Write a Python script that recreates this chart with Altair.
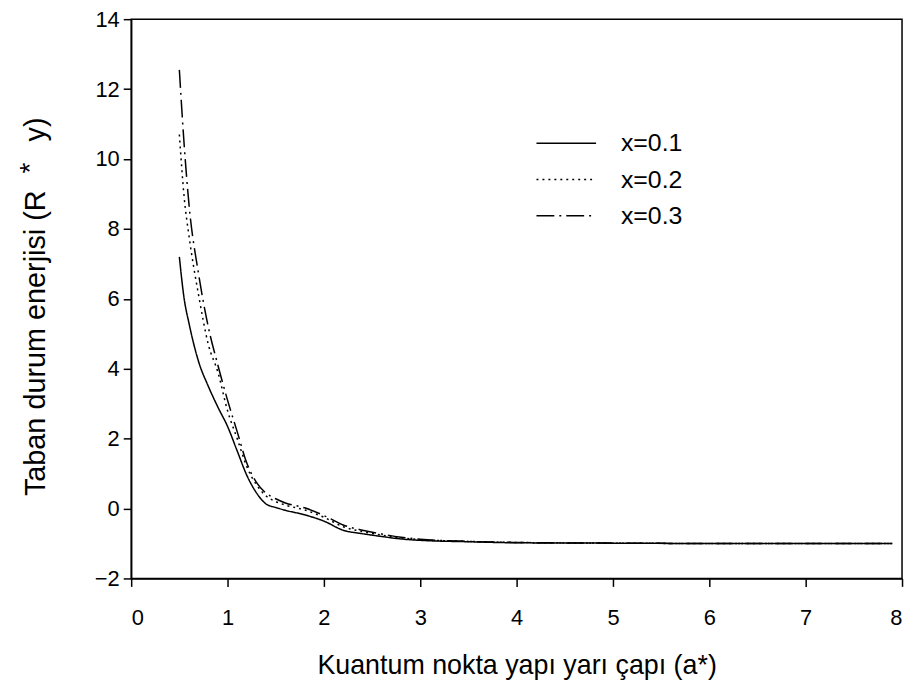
import altair as alt
import pandas as pd

# radius a* values
xs = [0.5, 0.55, 0.6, 0.7, 0.8, 0.9, 1.0, 1.1, 1.2, 1.3, 1.4, 1.5, 1.6, 1.8,
      2.0, 2.2, 2.4, 2.6, 2.8, 3.0, 3.5, 4.0, 5.0, 6.0, 7.0, 7.9]

y_01 = [7.2, 6.0, 5.3, 4.2, 3.5, 2.9, 2.35, 1.65, 0.95, 0.45, 0.13, 0.03, -0.05, -0.18,
        -0.36, -0.62, -0.72, -0.8, -0.87, -0.91, -0.95, -0.98, -0.99, -1.0, -1.0, -1.0]
y_02 = [10.7, 8.9, 7.8, 6.1, 4.7, 3.9, 2.8, 2.0, 1.2, 0.68, 0.36, 0.2, 0.1, -0.04,
        -0.25, -0.52, -0.66, -0.76, -0.84, -0.89, -0.94, -0.97, -0.99, -1.0, -1.0, -1.0]
y_03 = [12.55, 10.4, 8.7, 6.7, 5.2, 4.1, 3.1, 2.2, 1.3, 0.75, 0.44, 0.28, 0.16, 0.02,
        -0.2, -0.47, -0.62, -0.73, -0.82, -0.88, -0.94, -0.97, -0.99, -1.0, -1.0, -1.0]

series_names = ["x=0.1", "x=0.2", "x=0.3"]
dash_styles = [[1, 0], [2, 4], [18, 5, 2, 5]]
x_ticks = [0, 1, 2, 3, 4, 5, 6, 7, 8]
y_ticks = [-2, 0, 2, 4, 6, 8, 10, 12, 14]

rows = []
for name, ys in zip(series_names, [y_01, y_02, y_03]):
    for i, (x, y) in enumerate(zip(xs, ys)):
        rows.append({"a": x, "E": y, "series": name, "order": i})
df = pd.DataFrame(rows)
legend_df = pd.DataFrame({"series": series_names, "rank": list(range(len(series_names)))})

FONT = "Liberation Sans"
dash_scale = alt.Scale(domain=series_names, range=dash_styles)

lines = alt.Chart(df).mark_line(strokeWidth=1.5, color="black", interpolate="monotone").encode(
    x=alt.X("a:Q", scale=alt.Scale(domain=[0, 8], nice=False),
            axis=alt.Axis(values=x_ticks, title="Kuantum nokta yapı yarı çapı (a*)",
                          titlePadding=25, labelPadding=21, format="d", titleFontSize=27)),
    y=alt.Y("E:Q", scale=alt.Scale(domain=[-2, 14], nice=False),
            axis=alt.Axis(values=y_ticks,
                          title="Taban durum enerjisi (R\u2003\u2002\u2009y)",
                          titlePadding=44, labelPadding=4, format="d", titleFontSize=29,
                          titleY=289)),
    order="order:Q",
    strokeDash=alt.StrokeDash("series:N", scale=dash_scale, legend=None),
)

leg_y = alt.Y("rank:Q", scale=alt.Scale(domain=[0, 2], range=[125, 198]), axis=None)

legend_rules = alt.Chart(legend_df).mark_rule(strokeWidth=1.5, color="black").encode(
    x=alt.value(408), x2=alt.value(468), y=leg_y,
    strokeDash=alt.StrokeDash("series:N", scale=dash_scale, legend=None),
)
legend_text = alt.Chart(legend_df).mark_text(
    font=FONT, fontSize=25, align="left", baseline="middle", color="black"
).encode(x=alt.value(493), y=leg_y, text="series:N")

star = alt.Chart(pd.DataFrame({"t": ["*"]})).mark_text(
    font=FONT, fontSize=28, angle=270, color="black", baseline="alphabetic"
).encode(x=alt.value(-93), y=alt.value(150), text="t:N")

chart = alt.layer(lines, legend_rules, legend_text, star).resolve_scale(
    y="independent"
).properties(
    width=776, height=563,
    padding={"left": 124, "top": 9, "right": 5, "bottom": 100},
    autosize=alt.AutoSizeParams(type="none"),
).configure_view(stroke="black", strokeWidth=1.5).configure_axis(
    grid=False, domainColor="black", domainWidth=1.5, tickColor="black", tickWidth=1.5,
    tickSize=8, labelFont=FONT, titleFont=FONT, labelFontSize=22, titleFontSize=24,
    labelColor="black", titleColor="black", titleFontWeight="normal",
)

chart.save("out.html", embed_options={"renderer": "svg", "actions": False})
